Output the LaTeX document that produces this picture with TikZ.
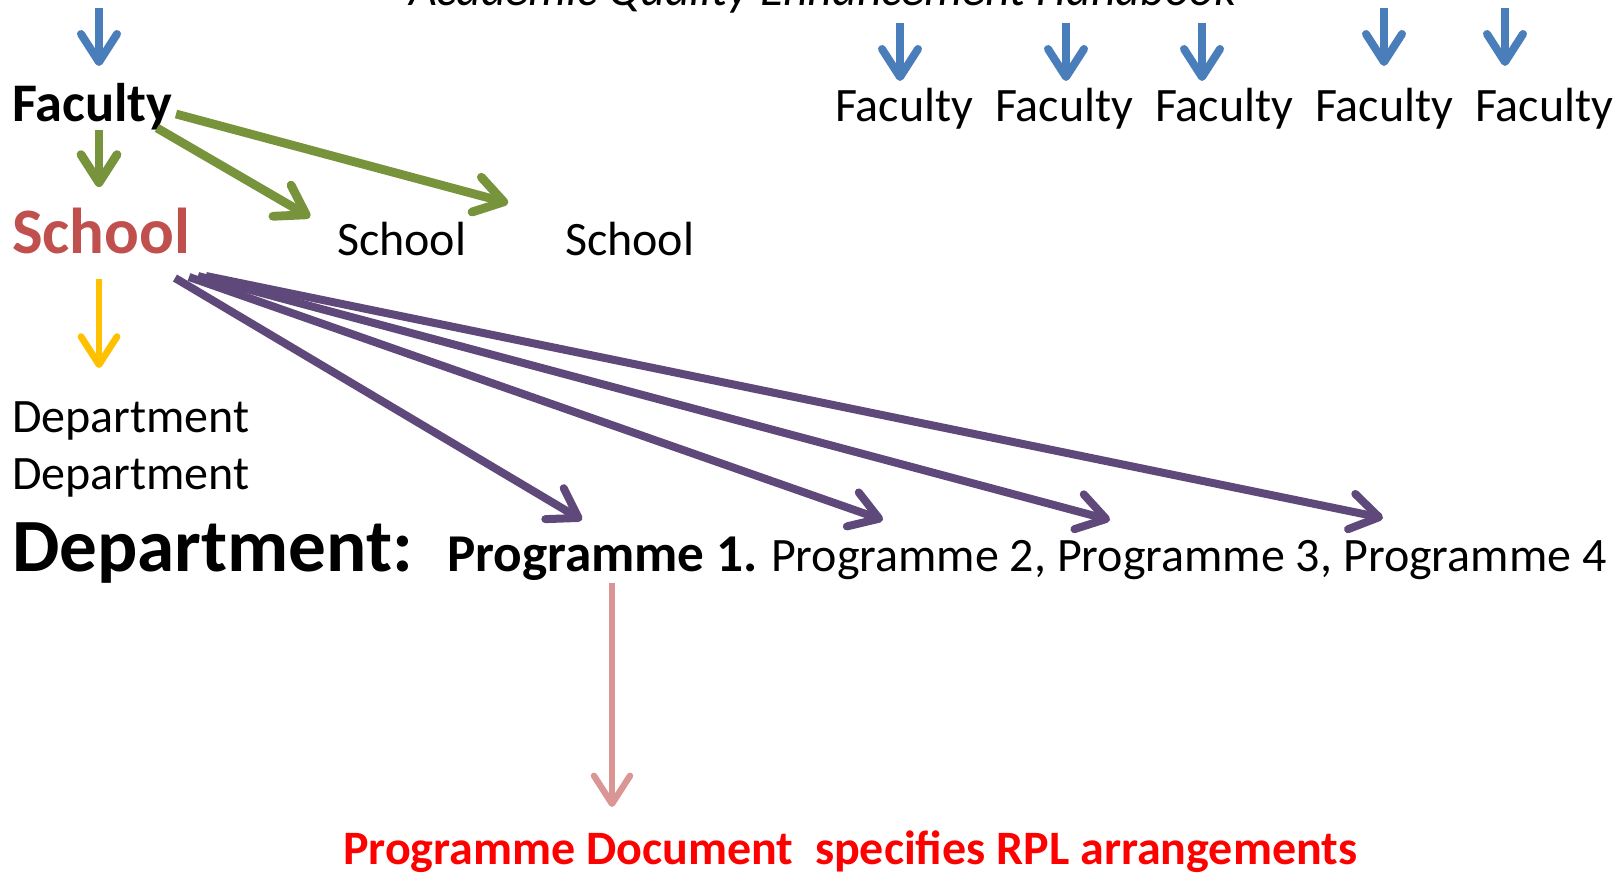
\documentclass[tikz,border=0pt]{standalone}
\usepackage{fontspec}
\setmainfont{Carlito}
\usetikzlibrary{arrows.meta}
\definecolor{cblue}{HTML}{4A7EBB}
\definecolor{cgreen}{HTML}{77933C}
\definecolor{cred}{HTML}{C0504D}
\definecolor{cyellow}{HTML}{FFC000}
\definecolor{cpurple}{HTML}{5F497A}
\definecolor{cpink}{HTML}{D99694}
\definecolor{ctxtred}{HTML}{FF0000}
\begin{document}
\begin{tikzpicture}[x=0.5pt,y=-0.5pt,
  txt/.style={anchor=base west,inner sep=0pt,outer sep=0pt,font=\fontsize{24pt}{28pt}\selectfont},
  conn/.style={line width=4pt,-{Straight Barb[length=14pt,width=18pt,round]}},
  bluearr/.style={conn,cblue},
  greenarr/.style={conn,cgreen,line width=4.4pt},
  yellowarr/.style={conn,cyellow,line width=3.4pt},
  purplearr/.style={conn,cpurple,line width=4pt},
  pinkarr/.style={conn,cpink,line width=3.2pt}]
\useasboundingbox (0,0) rectangle (1622,874);
% texts
\node[txt,font=\fontsize{24pt}{28pt}\selectfont\itshape] (title) at (409,5) {Academic Quality Enhancement Handbook};
\node[txt,font=\fontsize{27.2pt}{30pt}\selectfont\bfseries] (fac0) at (12,121) {Faculty};
\node[txt] (fac1) at (835,121) {Faculty};
\node[txt] (fac2) at (995,121) {Faculty};
\node[txt] (fac3) at (1155,121) {Faculty};
\node[txt] (fac4) at (1315,121) {Faculty};
\node[txt] (fac5) at (1475,121) {Faculty};
\node[txt,font=\fontsize{32.4pt}{36pt}\selectfont\bfseries,text=cred] (sch0) at (12,253) {School};
\node[txt] (sch1) at (337,255) {School};
\node[txt] (sch2) at (565,255) {School};
\node[txt] (dep1) at (12,432) {Department};
\node[txt] (dep2) at (12,489) {Department};
\node[txt,font=\fontsize{37.6pt}{40pt}\selectfont\bfseries] (depB) at (12,571) {Department:};
\node[txt,font=\fontsize{26.6pt}{30pt}\selectfont\bfseries] (prog1) at (447,571) {Programme 1.};
\node[txt] (progs) at (771,571) {Programme 2, Programme 3, Programme 4};
\node[txt,font=\fontsize{24pt}{28pt}\selectfont\bfseries,text=ctxtred] (rpl) at (343,864) {Programme Document\ \ specifies RPL arrangements};
% connector end points
\coordinate (b0s) at (99,8);   \coordinate (b0e) at (99,66);
\coordinate (b1s) at (900,23); \coordinate (b1e) at (900,81);
\coordinate (b2s) at (1066,23); \coordinate (b2e) at (1066,81);
\coordinate (b3s) at (1202,23); \coordinate (b3e) at (1202,81);
\coordinate (b4s) at (1384,8); \coordinate (b4e) at (1384,66);
\coordinate (b5s) at (1505,8); \coordinate (b5e) at (1505,66);
\coordinate (g0s) at (99,130); \coordinate (g0e) at (99,187);
\coordinate (g1s) at (157,128); \coordinate (g1e) at (310,217);
\coordinate (g2s) at (176,114); \coordinate (g2e) at (508,203);
\coordinate (ys) at (99,279); \coordinate (ye) at (99,368);
\coordinate (p1s) at (175,278); \coordinate (p1e) at (582,520);
\coordinate (p2s) at (189,277); \coordinate (p2e) at (883,520);
\coordinate (p3s) at (198,276); \coordinate (p3e) at (1110,520);
\coordinate (p4s) at (206,276); \coordinate (p4e) at (1383,518);
\coordinate (pks) at (612,583); \coordinate (pke) at (612,807);
% connectors
\draw[bluearr] (b0s) -- (b0e);
\draw[bluearr] (b1s) -- (b1e);
\draw[bluearr] (b2s) -- (b2e);
\draw[bluearr] (b3s) -- (b3e);
\draw[bluearr] (b4s) -- (b4e);
\draw[bluearr] (b5s) -- (b5e);
\draw[greenarr] (g0s) -- (g0e);
\draw[greenarr] (g1s) -- (g1e);
\draw[greenarr] (g2s) -- (g2e);
\draw[yellowarr] (ys) -- (ye);
\draw[purplearr] (p1s) -- (p1e);
\draw[purplearr] (p2s) -- (p2e);
\draw[purplearr] (p3s) -- (p3e);
\draw[purplearr] (p4s) -- (p4e);
\draw[pinkarr] (pks) -- (pke);
\end{tikzpicture}
\end{document}
